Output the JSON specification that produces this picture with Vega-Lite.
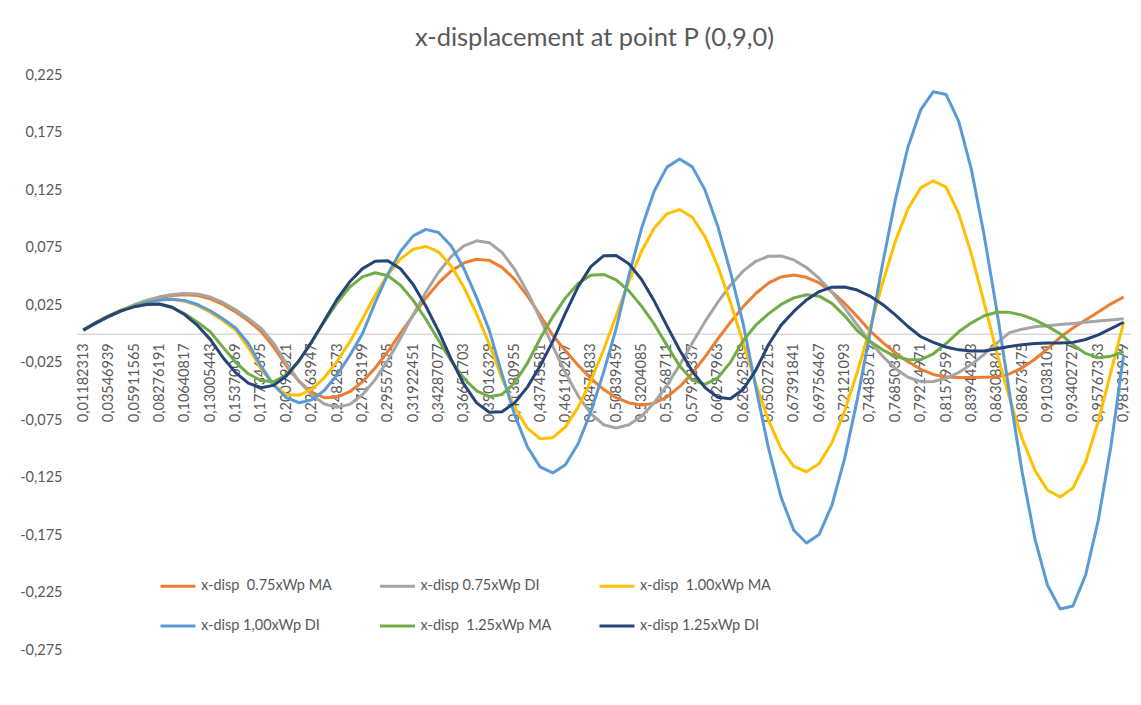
{
  "$schema": "https://vega.github.io/schema/vega-lite/v6.json",
  "width": 1053,
  "height": 575,
  "autosize": {"type": "none"},
  "padding": {"left": 77, "top": 75, "right": 11, "bottom": 55},
  "background": "white",
  "title": {"text": "x-displacement at point P (0,9,0)", "font": "Lato", "fontSize": 25.5, "fontWeight": "normal", "color": "#595959", "offset": 16, "dx": -9},
  "config": {"view": {"stroke": null}},
  "data": {"values": [
{"x":0.01182313,"s":"x-disp  0.75xWp MA","v":0.0031},{"x":0.02364626,"s":"x-disp  0.75xWp MA","v":0.0091},{"x":0.03546939,"s":"x-disp  0.75xWp MA","v":0.0148},{"x":0.04729252,"s":"x-disp  0.75xWp MA","v":0.0201},{"x":0.05911565,"s":"x-disp  0.75xWp MA","v":0.0247},{"x":0.07093878,"s":"x-disp  0.75xWp MA","v":0.0285},{"x":0.08276191,"s":"x-disp  0.75xWp MA","v":0.0313},{"x":0.09458504,"s":"x-disp  0.75xWp MA","v":0.0332},{"x":0.10640817,"s":"x-disp  0.75xWp MA","v":0.034},{"x":0.1182313,"s":"x-disp  0.75xWp MA","v":0.0333},
{"x":0.13005443,"s":"x-disp  0.75xWp MA","v":0.0304},{"x":0.14187756,"s":"x-disp  0.75xWp MA","v":0.0255},{"x":0.15370069,"s":"x-disp  0.75xWp MA","v":0.019},{"x":0.16552382,"s":"x-disp  0.75xWp MA","v":0.0112},{"x":0.17734695,"s":"x-disp  0.75xWp MA","v":0.0022},{"x":0.18917008,"s":"x-disp  0.75xWp MA","v":-0.0115},{"x":0.20099321,"s":"x-disp  0.75xWp MA","v":-0.028},{"x":0.21281634,"s":"x-disp  0.75xWp MA","v":-0.0414},{"x":0.22463947,"s":"x-disp  0.75xWp MA","v":-0.0509},{"x":0.2364626,"s":"x-disp  0.75xWp MA","v":-0.0556},
{"x":0.24828573,"s":"x-disp  0.75xWp MA","v":-0.0552},{"x":0.26010886,"s":"x-disp  0.75xWp MA","v":-0.0504},{"x":0.27193199,"s":"x-disp  0.75xWp MA","v":-0.0418},{"x":0.28375512,"s":"x-disp  0.75xWp MA","v":-0.0298},{"x":0.29557825,"s":"x-disp  0.75xWp MA","v":-0.0155},{"x":0.30740138,"s":"x-disp  0.75xWp MA","v":0.0005},{"x":0.31922451,"s":"x-disp  0.75xWp MA","v":0.016},{"x":0.33104764,"s":"x-disp  0.75xWp MA","v":0.0311},{"x":0.34287077,"s":"x-disp  0.75xWp MA","v":0.0442},{"x":0.3546939,"s":"x-disp  0.75xWp MA","v":0.0546},
{"x":0.36651703,"s":"x-disp  0.75xWp MA","v":0.0616},{"x":0.37834016,"s":"x-disp  0.75xWp MA","v":0.0648},{"x":0.39016329,"s":"x-disp  0.75xWp MA","v":0.0638},{"x":0.40198642,"s":"x-disp  0.75xWp MA","v":0.0577},{"x":0.41380955,"s":"x-disp  0.75xWp MA","v":0.0473},{"x":0.42563268,"s":"x-disp  0.75xWp MA","v":0.033},{"x":0.43745581,"s":"x-disp  0.75xWp MA","v":0.0163},{"x":0.44927894,"s":"x-disp  0.75xWp MA","v":-0.0014},{"x":0.46110207,"s":"x-disp  0.75xWp MA","v":-0.0148},{"x":0.4729252,"s":"x-disp  0.75xWp MA","v":-0.0274},
{"x":0.48474833,"s":"x-disp  0.75xWp MA","v":-0.0388},{"x":0.49657146,"s":"x-disp  0.75xWp MA","v":-0.0483},{"x":0.50839459,"s":"x-disp  0.75xWp MA","v":-0.0556},{"x":0.52021772,"s":"x-disp  0.75xWp MA","v":-0.0602},{"x":0.53204085,"s":"x-disp  0.75xWp MA","v":-0.062},{"x":0.54386398,"s":"x-disp  0.75xWp MA","v":-0.0604},{"x":0.55568711,"s":"x-disp  0.75xWp MA","v":-0.055},{"x":0.56751024,"s":"x-disp  0.75xWp MA","v":-0.046},{"x":0.57933337,"s":"x-disp  0.75xWp MA","v":-0.0342},{"x":0.5911565,"s":"x-disp  0.75xWp MA","v":-0.0201},
{"x":0.60297963,"s":"x-disp  0.75xWp MA","v":-0.0047},{"x":0.61480276,"s":"x-disp  0.75xWp MA","v":0.0099},{"x":0.62662589,"s":"x-disp  0.75xWp MA","v":0.0234},{"x":0.63844902,"s":"x-disp  0.75xWp MA","v":0.035},{"x":0.65027215,"s":"x-disp  0.75xWp MA","v":0.044},{"x":0.66209528,"s":"x-disp  0.75xWp MA","v":0.0494},{"x":0.67391841,"s":"x-disp  0.75xWp MA","v":0.051},{"x":0.68574154,"s":"x-disp  0.75xWp MA","v":0.0491},{"x":0.69756467,"s":"x-disp  0.75xWp MA","v":0.0442},{"x":0.7093878,"s":"x-disp  0.75xWp MA","v":0.0365},
{"x":0.72121093,"s":"x-disp  0.75xWp MA","v":0.0266},{"x":0.73303406,"s":"x-disp  0.75xWp MA","v":0.015},{"x":0.74485719,"s":"x-disp  0.75xWp MA","v":0.0026},{"x":0.75668032,"s":"x-disp  0.75xWp MA","v":-0.0075},{"x":0.76850345,"s":"x-disp  0.75xWp MA","v":-0.0165},{"x":0.78032658,"s":"x-disp  0.75xWp MA","v":-0.0244},{"x":0.79214971,"s":"x-disp  0.75xWp MA","v":-0.0309},{"x":0.80397284,"s":"x-disp  0.75xWp MA","v":-0.0354},{"x":0.81579597,"s":"x-disp  0.75xWp MA","v":-0.0377},{"x":0.8276191,"s":"x-disp  0.75xWp MA","v":-0.038},
{"x":0.83944223,"s":"x-disp  0.75xWp MA","v":-0.038},{"x":0.85126536,"s":"x-disp  0.75xWp MA","v":-0.0378},{"x":0.86308849,"s":"x-disp  0.75xWp MA","v":-0.0377},{"x":0.87491162,"s":"x-disp  0.75xWp MA","v":-0.0349},{"x":0.88673475,"s":"x-disp  0.75xWp MA","v":-0.0296},{"x":0.89855788,"s":"x-disp  0.75xWp MA","v":-0.0222},{"x":0.91038101,"s":"x-disp  0.75xWp MA","v":-0.0131},{"x":0.92220414,"s":"x-disp  0.75xWp MA","v":-0.0031},{"x":0.93402727,"s":"x-disp  0.75xWp MA","v":0.005},{"x":0.9458504,"s":"x-disp  0.75xWp MA","v":0.012},
{"x":0.95767353,"s":"x-disp  0.75xWp MA","v":0.019},{"x":0.96949666,"s":"x-disp  0.75xWp MA","v":0.026},{"x":0.98131979,"s":"x-disp  0.75xWp MA","v":0.032},

{"x":0.01182313,"s":"x-disp 0.75xWp DI","v":0.0031},{"x":0.02364626,"s":"x-disp 0.75xWp DI","v":0.0093},{"x":0.03546939,"s":"x-disp 0.75xWp DI","v":0.0151},{"x":0.04729252,"s":"x-disp 0.75xWp DI","v":0.0205},{"x":0.05911565,"s":"x-disp 0.75xWp DI","v":0.0252},{"x":0.07093878,"s":"x-disp 0.75xWp DI","v":0.0291},{"x":0.08276191,"s":"x-disp 0.75xWp DI","v":0.0321},{"x":0.09458504,"s":"x-disp 0.75xWp DI","v":0.0341},{"x":0.10640817,"s":"x-disp 0.75xWp DI","v":0.035},{"x":0.1182313,"s":"x-disp 0.75xWp DI","v":0.0345},
{"x":0.13005443,"s":"x-disp 0.75xWp DI","v":0.0319},{"x":0.14187756,"s":"x-disp 0.75xWp DI","v":0.0272},{"x":0.15370069,"s":"x-disp 0.75xWp DI","v":0.0209},{"x":0.16552382,"s":"x-disp 0.75xWp DI","v":0.0133},{"x":0.17734695,"s":"x-disp 0.75xWp DI","v":0.0048},{"x":0.18917008,"s":"x-disp 0.75xWp DI","v":-0.0082},{"x":0.20099321,"s":"x-disp 0.75xWp DI","v":-0.0257},{"x":0.21281634,"s":"x-disp 0.75xWp DI","v":-0.0411},{"x":0.22463947,"s":"x-disp 0.75xWp DI","v":-0.0532},{"x":0.2364626,"s":"x-disp 0.75xWp DI","v":-0.0611},
{"x":0.24828573,"s":"x-disp 0.75xWp DI","v":-0.064},{"x":0.26010886,"s":"x-disp 0.75xWp DI","v":-0.0614},{"x":0.27193199,"s":"x-disp 0.75xWp DI","v":-0.0531},{"x":0.28375512,"s":"x-disp 0.75xWp DI","v":-0.0399},{"x":0.29557825,"s":"x-disp 0.75xWp DI","v":-0.023},{"x":0.30740138,"s":"x-disp 0.75xWp DI","v":-0.0039},{"x":0.31922451,"s":"x-disp 0.75xWp DI","v":0.0166},{"x":0.33104764,"s":"x-disp 0.75xWp DI","v":0.0362},{"x":0.34287077,"s":"x-disp 0.75xWp DI","v":0.0535},{"x":0.3546939,"s":"x-disp 0.75xWp DI","v":0.0672},
{"x":0.36651703,"s":"x-disp 0.75xWp DI","v":0.0765},{"x":0.37834016,"s":"x-disp 0.75xWp DI","v":0.0808},{"x":0.39016329,"s":"x-disp 0.75xWp DI","v":0.0792},{"x":0.40198642,"s":"x-disp 0.75xWp DI","v":0.0707},{"x":0.41380955,"s":"x-disp 0.75xWp DI","v":0.056},{"x":0.42563268,"s":"x-disp 0.75xWp DI","v":0.0363},{"x":0.43745581,"s":"x-disp 0.75xWp DI","v":0.0133},{"x":0.44927894,"s":"x-disp 0.75xWp DI","v":-0.0108},{"x":0.46110207,"s":"x-disp 0.75xWp DI","v":-0.0339},{"x":0.4729252,"s":"x-disp 0.75xWp DI","v":-0.054},
{"x":0.48474833,"s":"x-disp 0.75xWp DI","v":-0.0695},{"x":0.49657146,"s":"x-disp 0.75xWp DI","v":-0.0791},{"x":0.50839459,"s":"x-disp 0.75xWp DI","v":-0.082},{"x":0.52021772,"s":"x-disp 0.75xWp DI","v":-0.0791},{"x":0.53204085,"s":"x-disp 0.75xWp DI","v":-0.0717},{"x":0.54386398,"s":"x-disp 0.75xWp DI","v":-0.06},{"x":0.55568711,"s":"x-disp 0.75xWp DI","v":-0.0449},{"x":0.56751024,"s":"x-disp 0.75xWp DI","v":-0.0273},{"x":0.57933337,"s":"x-disp 0.75xWp DI","v":-0.008},{"x":0.5911565,"s":"x-disp 0.75xWp DI","v":0.0105},
{"x":0.60297963,"s":"x-disp 0.75xWp DI","v":0.0272},{"x":0.61480276,"s":"x-disp 0.75xWp DI","v":0.0422},{"x":0.62662589,"s":"x-disp 0.75xWp DI","v":0.0544},{"x":0.63844902,"s":"x-disp 0.75xWp DI","v":0.063},{"x":0.65027215,"s":"x-disp 0.75xWp DI","v":0.0674},{"x":0.66209528,"s":"x-disp 0.75xWp DI","v":0.0676},{"x":0.67391841,"s":"x-disp 0.75xWp DI","v":0.0642},{"x":0.68574154,"s":"x-disp 0.75xWp DI","v":0.0576},{"x":0.69756467,"s":"x-disp 0.75xWp DI","v":0.0481},{"x":0.7093878,"s":"x-disp 0.75xWp DI","v":0.0362},
{"x":0.72121093,"s":"x-disp 0.75xWp DI","v":0.0225},{"x":0.73303406,"s":"x-disp 0.75xWp DI","v":0.0076},{"x":0.74485719,"s":"x-disp 0.75xWp DI","v":-0.0067},{"x":0.75668032,"s":"x-disp 0.75xWp DI","v":-0.0194},{"x":0.76850345,"s":"x-disp 0.75xWp DI","v":-0.0302},{"x":0.78032658,"s":"x-disp 0.75xWp DI","v":-0.0378},{"x":0.79214971,"s":"x-disp 0.75xWp DI","v":-0.0417},{"x":0.80397284,"s":"x-disp 0.75xWp DI","v":-0.0415},{"x":0.81579597,"s":"x-disp 0.75xWp DI","v":-0.0388},{"x":0.8276191,"s":"x-disp 0.75xWp DI","v":-0.0337},
{"x":0.83944223,"s":"x-disp 0.75xWp DI","v":-0.0266},{"x":0.85126536,"s":"x-disp 0.75xWp DI","v":-0.018},{"x":0.86308849,"s":"x-disp 0.75xWp DI","v":-0.0082},{"x":0.87491162,"s":"x-disp 0.75xWp DI","v":0.001},{"x":0.88673475,"s":"x-disp 0.75xWp DI","v":0.004},{"x":0.89855788,"s":"x-disp 0.75xWp DI","v":0.006},{"x":0.91038101,"s":"x-disp 0.75xWp DI","v":0.007},{"x":0.92220414,"s":"x-disp 0.75xWp DI","v":0.008},{"x":0.93402727,"s":"x-disp 0.75xWp DI","v":0.009},{"x":0.9458504,"s":"x-disp 0.75xWp DI","v":0.01},
{"x":0.95767353,"s":"x-disp 0.75xWp DI","v":0.011},{"x":0.96949666,"s":"x-disp 0.75xWp DI","v":0.012},{"x":0.98131979,"s":"x-disp 0.75xWp DI","v":0.013},

{"x":0.01182313,"s":"x-disp  1.00xWp MA","v":0.0032},{"x":0.02364626,"s":"x-disp  1.00xWp MA","v":0.0095},{"x":0.03546939,"s":"x-disp  1.00xWp MA","v":0.0154},{"x":0.04729252,"s":"x-disp  1.00xWp MA","v":0.0205},{"x":0.05911565,"s":"x-disp  1.00xWp MA","v":0.0247},{"x":0.07093878,"s":"x-disp  1.00xWp MA","v":0.0278},{"x":0.08276191,"s":"x-disp  1.00xWp MA","v":0.0296},{"x":0.09458504,"s":"x-disp  1.00xWp MA","v":0.03},{"x":0.10640817,"s":"x-disp  1.00xWp MA","v":0.0283},{"x":0.1182313,"s":"x-disp  1.00xWp MA","v":0.0245},
{"x":0.13005443,"s":"x-disp  1.00xWp MA","v":0.0187},{"x":0.14187756,"s":"x-disp  1.00xWp MA","v":0.0115},{"x":0.15370069,"s":"x-disp  1.00xWp MA","v":0.0033},{"x":0.16552382,"s":"x-disp  1.00xWp MA","v":-0.012},{"x":0.17734695,"s":"x-disp  1.00xWp MA","v":-0.0304},{"x":0.18917008,"s":"x-disp  1.00xWp MA","v":-0.0446},{"x":0.20099321,"s":"x-disp  1.00xWp MA","v":-0.0527},{"x":0.21281634,"s":"x-disp  1.00xWp MA","v":-0.0535},{"x":0.22463947,"s":"x-disp  1.00xWp MA","v":-0.0484},{"x":0.2364626,"s":"x-disp  1.00xWp MA","v":-0.0382},
{"x":0.24828573,"s":"x-disp  1.00xWp MA","v":-0.0239},{"x":0.26010886,"s":"x-disp  1.00xWp MA","v":-0.0071},{"x":0.27193199,"s":"x-disp  1.00xWp MA","v":0.0129},{"x":0.28375512,"s":"x-disp  1.00xWp MA","v":0.0335},{"x":0.29557825,"s":"x-disp  1.00xWp MA","v":0.0514},{"x":0.30740138,"s":"x-disp  1.00xWp MA","v":0.0651},{"x":0.31922451,"s":"x-disp  1.00xWp MA","v":0.0735},{"x":0.33104764,"s":"x-disp  1.00xWp MA","v":0.076},{"x":0.34287077,"s":"x-disp  1.00xWp MA","v":0.0711},{"x":0.3546939,"s":"x-disp  1.00xWp MA","v":0.0588},
{"x":0.36651703,"s":"x-disp  1.00xWp MA","v":0.0402},{"x":0.37834016,"s":"x-disp  1.00xWp MA","v":0.0173},{"x":0.39016329,"s":"x-disp  1.00xWp MA","v":-0.0092},{"x":0.40198642,"s":"x-disp  1.00xWp MA","v":-0.0388},{"x":0.41380955,"s":"x-disp  1.00xWp MA","v":-0.064},{"x":0.42563268,"s":"x-disp  1.00xWp MA","v":-0.0821},{"x":0.43745581,"s":"x-disp  1.00xWp MA","v":-0.0912},{"x":0.44927894,"s":"x-disp  1.00xWp MA","v":-0.0904},{"x":0.46110207,"s":"x-disp  1.00xWp MA","v":-0.081},{"x":0.4729252,"s":"x-disp  1.00xWp MA","v":-0.064},
{"x":0.48474833,"s":"x-disp  1.00xWp MA","v":-0.041},{"x":0.49657146,"s":"x-disp  1.00xWp MA","v":-0.0141},{"x":0.50839459,"s":"x-disp  1.00xWp MA","v":0.0156},{"x":0.52021772,"s":"x-disp  1.00xWp MA","v":0.0456},{"x":0.53204085,"s":"x-disp  1.00xWp MA","v":0.0718},{"x":0.54386398,"s":"x-disp  1.00xWp MA","v":0.0919},{"x":0.55568711,"s":"x-disp  1.00xWp MA","v":0.1043},{"x":0.56751024,"s":"x-disp  1.00xWp MA","v":0.108},{"x":0.57933337,"s":"x-disp  1.00xWp MA","v":0.1013},{"x":0.5911565,"s":"x-disp  1.00xWp MA","v":0.0845},
{"x":0.60297963,"s":"x-disp  1.00xWp MA","v":0.0589},{"x":0.61480276,"s":"x-disp  1.00xWp MA","v":0.0274},{"x":0.62662589,"s":"x-disp  1.00xWp MA","v":-0.0074},{"x":0.63844902,"s":"x-disp  1.00xWp MA","v":-0.0434},{"x":0.65027215,"s":"x-disp  1.00xWp MA","v":-0.0752},{"x":0.66209528,"s":"x-disp  1.00xWp MA","v":-0.1},{"x":0.67391841,"s":"x-disp  1.00xWp MA","v":-0.1154},{"x":0.68574154,"s":"x-disp  1.00xWp MA","v":-0.12},{"x":0.69756467,"s":"x-disp  1.00xWp MA","v":-0.1129},{"x":0.7093878,"s":"x-disp  1.00xWp MA","v":-0.0948},
{"x":0.72121093,"s":"x-disp  1.00xWp MA","v":-0.0675},{"x":0.73303406,"s":"x-disp  1.00xWp MA","v":-0.0335},{"x":0.74485719,"s":"x-disp  1.00xWp MA","v":0.0041},{"x":0.75668032,"s":"x-disp  1.00xWp MA","v":0.0442},{"x":0.76850345,"s":"x-disp  1.00xWp MA","v":0.0802},{"x":0.78032658,"s":"x-disp  1.00xWp MA","v":0.1087},{"x":0.79214971,"s":"x-disp  1.00xWp MA","v":0.1268},{"x":0.80397284,"s":"x-disp  1.00xWp MA","v":0.133},{"x":0.81579597,"s":"x-disp  1.00xWp MA","v":0.1275},{"x":0.8276191,"s":"x-disp  1.00xWp MA","v":0.1045},
{"x":0.83944223,"s":"x-disp  1.00xWp MA","v":0.0692},{"x":0.85126536,"s":"x-disp  1.00xWp MA","v":0.027},{"x":0.86308849,"s":"x-disp  1.00xWp MA","v":-0.0165},{"x":0.87491162,"s":"x-disp  1.00xWp MA","v":-0.0562},{"x":0.88673475,"s":"x-disp  1.00xWp MA","v":-0.0913},{"x":0.89855788,"s":"x-disp  1.00xWp MA","v":-0.1186},{"x":0.91038101,"s":"x-disp  1.00xWp MA","v":-0.1361},{"x":0.92220414,"s":"x-disp  1.00xWp MA","v":-0.142},{"x":0.93402727,"s":"x-disp  1.00xWp MA","v":-0.1342},{"x":0.9458504,"s":"x-disp  1.00xWp MA","v":-0.1115},
{"x":0.95767353,"s":"x-disp  1.00xWp MA","v":-0.0764},{"x":0.96949666,"s":"x-disp  1.00xWp MA","v":-0.0329},{"x":0.98131979,"s":"x-disp  1.00xWp MA","v":0.01},

{"x":0.01182313,"s":"x-disp 1,00xWp DI","v":0.0031},{"x":0.02364626,"s":"x-disp 1,00xWp DI","v":0.0093},{"x":0.03546939,"s":"x-disp 1,00xWp DI","v":0.015},{"x":0.04729252,"s":"x-disp 1,00xWp DI","v":0.0201},{"x":0.05911565,"s":"x-disp 1,00xWp DI","v":0.0243},{"x":0.07093878,"s":"x-disp 1,00xWp DI","v":0.0274},{"x":0.08276191,"s":"x-disp 1,00xWp DI","v":0.0293},{"x":0.09458504,"s":"x-disp 1,00xWp DI","v":0.03},{"x":0.10640817,"s":"x-disp 1,00xWp DI","v":0.0288},{"x":0.1182313,"s":"x-disp 1,00xWp DI","v":0.0254},
{"x":0.13005443,"s":"x-disp 1,00xWp DI","v":0.02},{"x":0.14187756,"s":"x-disp 1,00xWp DI","v":0.013},{"x":0.15370069,"s":"x-disp 1,00xWp DI","v":0.005},{"x":0.16552382,"s":"x-disp 1,00xWp DI","v":-0.0083},{"x":0.17734695,"s":"x-disp 1,00xWp DI","v":-0.0282},{"x":0.18917008,"s":"x-disp 1,00xWp DI","v":-0.0446},{"x":0.20099321,"s":"x-disp 1,00xWp DI","v":-0.0556},{"x":0.21281634,"s":"x-disp 1,00xWp DI","v":-0.06},{"x":0.22463947,"s":"x-disp 1,00xWp DI","v":-0.0575},{"x":0.2364626,"s":"x-disp 1,00xWp DI","v":-0.0492},
{"x":0.24828573,"s":"x-disp 1,00xWp DI","v":-0.0359},{"x":0.26010886,"s":"x-disp 1,00xWp DI","v":-0.0189},{"x":0.27193199,"s":"x-disp 1,00xWp DI","v":0.0},{"x":0.28375512,"s":"x-disp 1,00xWp DI","v":0.0271},{"x":0.29557825,"s":"x-disp 1,00xWp DI","v":0.0517},{"x":0.30740138,"s":"x-disp 1,00xWp DI","v":0.0716},{"x":0.31922451,"s":"x-disp 1,00xWp DI","v":0.0851},{"x":0.33104764,"s":"x-disp 1,00xWp DI","v":0.0908},{"x":0.34287077,"s":"x-disp 1,00xWp DI","v":0.088},{"x":0.3546939,"s":"x-disp 1,00xWp DI","v":0.0763},
{"x":0.36651703,"s":"x-disp 1,00xWp DI","v":0.0567},{"x":0.37834016,"s":"x-disp 1,00xWp DI","v":0.0314},{"x":0.39016329,"s":"x-disp 1,00xWp DI","v":0.0029},{"x":0.40198642,"s":"x-disp 1,00xWp DI","v":-0.0351},{"x":0.41380955,"s":"x-disp 1,00xWp DI","v":-0.0705},{"x":0.42563268,"s":"x-disp 1,00xWp DI","v":-0.0984},{"x":0.43745581,"s":"x-disp 1,00xWp DI","v":-0.1158},{"x":0.44927894,"s":"x-disp 1,00xWp DI","v":-0.121},{"x":0.46110207,"s":"x-disp 1,00xWp DI","v":-0.1139},{"x":0.4729252,"s":"x-disp 1,00xWp DI","v":-0.0956},
{"x":0.48474833,"s":"x-disp 1,00xWp DI","v":-0.068},{"x":0.49657146,"s":"x-disp 1,00xWp DI","v":-0.0338},{"x":0.50839459,"s":"x-disp 1,00xWp DI","v":0.0047},{"x":0.52021772,"s":"x-disp 1,00xWp DI","v":0.0505},{"x":0.53204085,"s":"x-disp 1,00xWp DI","v":0.0917},{"x":0.54386398,"s":"x-disp 1,00xWp DI","v":0.1242},{"x":0.55568711,"s":"x-disp 1,00xWp DI","v":0.1449},{"x":0.56751024,"s":"x-disp 1,00xWp DI","v":0.152},{"x":0.57933337,"s":"x-disp 1,00xWp DI","v":0.1451},{"x":0.5911565,"s":"x-disp 1,00xWp DI","v":0.1251},
{"x":0.60297963,"s":"x-disp 1,00xWp DI","v":0.0938},{"x":0.61480276,"s":"x-disp 1,00xWp DI","v":0.054},{"x":0.62662589,"s":"x-disp 1,00xWp DI","v":0.0091},{"x":0.63844902,"s":"x-disp 1,00xWp DI","v":-0.0462},{"x":0.65027215,"s":"x-disp 1,00xWp DI","v":-0.0993},{"x":0.66209528,"s":"x-disp 1,00xWp DI","v":-0.1423},{"x":0.67391841,"s":"x-disp 1,00xWp DI","v":-0.1709},{"x":0.68574154,"s":"x-disp 1,00xWp DI","v":-0.182},{"x":0.69756467,"s":"x-disp 1,00xWp DI","v":-0.1745},{"x":0.7093878,"s":"x-disp 1,00xWp DI","v":-0.1492},
{"x":0.72121093,"s":"x-disp 1,00xWp DI","v":-0.1088},{"x":0.73303406,"s":"x-disp 1,00xWp DI","v":-0.0573},{"x":0.74485719,"s":"x-disp 1,00xWp DI","v":0.0},{"x":0.75668032,"s":"x-disp 1,00xWp DI","v":0.0608},{"x":0.76850345,"s":"x-disp 1,00xWp DI","v":0.1164},{"x":0.78032658,"s":"x-disp 1,00xWp DI","v":0.1624},{"x":0.79214971,"s":"x-disp 1,00xWp DI","v":0.1946},{"x":0.80397284,"s":"x-disp 1,00xWp DI","v":0.2105},{"x":0.81579597,"s":"x-disp 1,00xWp DI","v":0.2081},{"x":0.8276191,"s":"x-disp 1,00xWp DI","v":0.1847},
{"x":0.83944223,"s":"x-disp 1,00xWp DI","v":0.1427},{"x":0.85126536,"s":"x-disp 1,00xWp DI","v":0.0859},{"x":0.86308849,"s":"x-disp 1,00xWp DI","v":0.0203},{"x":0.87491162,"s":"x-disp 1,00xWp DI","v":-0.0516},{"x":0.88673475,"s":"x-disp 1,00xWp DI","v":-0.1205},{"x":0.89855788,"s":"x-disp 1,00xWp DI","v":-0.1781},{"x":0.91038101,"s":"x-disp 1,00xWp DI","v":-0.2188},{"x":0.92220414,"s":"x-disp 1,00xWp DI","v":-0.2393},{"x":0.93402727,"s":"x-disp 1,00xWp DI","v":-0.2367},{"x":0.9458504,"s":"x-disp 1,00xWp DI","v":-0.2099},
{"x":0.95767353,"s":"x-disp 1,00xWp DI","v":-0.1622},{"x":0.96949666,"s":"x-disp 1,00xWp DI","v":-0.0976},{"x":0.98131979,"s":"x-disp 1,00xWp DI","v":-0.018},

{"x":0.01182313,"s":"x-disp  1.25xWp MA","v":0.0034},{"x":0.02364626,"s":"x-disp  1.25xWp MA","v":0.01},{"x":0.03546939,"s":"x-disp  1.25xWp MA","v":0.0158},{"x":0.04729252,"s":"x-disp  1.25xWp MA","v":0.0206},{"x":0.05911565,"s":"x-disp  1.25xWp MA","v":0.024},{"x":0.07093878,"s":"x-disp  1.25xWp MA","v":0.0258},{"x":0.08276191,"s":"x-disp  1.25xWp MA","v":0.0256},{"x":0.09458504,"s":"x-disp  1.25xWp MA","v":0.0228},{"x":0.10640817,"s":"x-disp  1.25xWp MA","v":0.0174},{"x":0.1182313,"s":"x-disp  1.25xWp MA","v":0.0101},
{"x":0.13005443,"s":"x-disp  1.25xWp MA","v":0.0017},{"x":0.14187756,"s":"x-disp  1.25xWp MA","v":-0.0116},{"x":0.15370069,"s":"x-disp  1.25xWp MA","v":-0.0247},{"x":0.16552382,"s":"x-disp  1.25xWp MA","v":-0.0348},{"x":0.17734695,"s":"x-disp  1.25xWp MA","v":-0.0407},{"x":0.18917008,"s":"x-disp  1.25xWp MA","v":-0.0417},{"x":0.20099321,"s":"x-disp  1.25xWp MA","v":-0.0357},{"x":0.21281634,"s":"x-disp  1.25xWp MA","v":-0.0235},{"x":0.22463947,"s":"x-disp  1.25xWp MA","v":-0.0071},{"x":0.2364626,"s":"x-disp  1.25xWp MA","v":0.0106},
{"x":0.24828573,"s":"x-disp  1.25xWp MA","v":0.027},{"x":0.26010886,"s":"x-disp  1.25xWp MA","v":0.0405},{"x":0.27193199,"s":"x-disp  1.25xWp MA","v":0.0494},{"x":0.28375512,"s":"x-disp  1.25xWp MA","v":0.053},{"x":0.29557825,"s":"x-disp  1.25xWp MA","v":0.0505},{"x":0.30740138,"s":"x-disp  1.25xWp MA","v":0.0422},{"x":0.31922451,"s":"x-disp  1.25xWp MA","v":0.029},{"x":0.33104764,"s":"x-disp  1.25xWp MA","v":0.0126},{"x":0.34287077,"s":"x-disp  1.25xWp MA","v":-0.0056},{"x":0.3546939,"s":"x-disp  1.25xWp MA","v":-0.0236},
{"x":0.36651703,"s":"x-disp  1.25xWp MA","v":-0.0389},{"x":0.37834016,"s":"x-disp  1.25xWp MA","v":-0.0497},{"x":0.39016329,"s":"x-disp  1.25xWp MA","v":-0.0547},{"x":0.40198642,"s":"x-disp  1.25xWp MA","v":-0.0528},{"x":0.41380955,"s":"x-disp  1.25xWp MA","v":-0.0426},{"x":0.42563268,"s":"x-disp  1.25xWp MA","v":-0.0256},{"x":0.43745581,"s":"x-disp  1.25xWp MA","v":-0.0044},{"x":0.44927894,"s":"x-disp  1.25xWp MA","v":0.0147},{"x":0.46110207,"s":"x-disp  1.25xWp MA","v":0.0312},{"x":0.4729252,"s":"x-disp  1.25xWp MA","v":0.0437},
{"x":0.48474833,"s":"x-disp  1.25xWp MA","v":0.0508},{"x":0.49657146,"s":"x-disp  1.25xWp MA","v":0.0516},{"x":0.50839459,"s":"x-disp  1.25xWp MA","v":0.0468},{"x":0.52021772,"s":"x-disp  1.25xWp MA","v":0.0373},{"x":0.53204085,"s":"x-disp  1.25xWp MA","v":0.024},{"x":0.54386398,"s":"x-disp  1.25xWp MA","v":0.0083},{"x":0.55568711,"s":"x-disp  1.25xWp MA","v":-0.0101},{"x":0.56751024,"s":"x-disp  1.25xWp MA","v":-0.0281},{"x":0.57933337,"s":"x-disp  1.25xWp MA","v":-0.0403},{"x":0.5911565,"s":"x-disp  1.25xWp MA","v":-0.044},
{"x":0.60297963,"s":"x-disp  1.25xWp MA","v":-0.0385},{"x":0.61480276,"s":"x-disp  1.25xWp MA","v":-0.0249},{"x":0.62662589,"s":"x-disp  1.25xWp MA","v":-0.0061},{"x":0.63844902,"s":"x-disp  1.25xWp MA","v":0.0074},{"x":0.65027215,"s":"x-disp  1.25xWp MA","v":0.0173},{"x":0.66209528,"s":"x-disp  1.25xWp MA","v":0.0255},{"x":0.67391841,"s":"x-disp  1.25xWp MA","v":0.0312},{"x":0.68574154,"s":"x-disp  1.25xWp MA","v":0.0339},{"x":0.69756467,"s":"x-disp  1.25xWp MA","v":0.0327},{"x":0.7093878,"s":"x-disp  1.25xWp MA","v":0.0264},
{"x":0.72121093,"s":"x-disp  1.25xWp MA","v":0.0158},{"x":0.73303406,"s":"x-disp  1.25xWp MA","v":0.0027},{"x":0.74485719,"s":"x-disp  1.25xWp MA","v":-0.0066},{"x":0.75668032,"s":"x-disp  1.25xWp MA","v":-0.014},{"x":0.76850345,"s":"x-disp  1.25xWp MA","v":-0.0196},{"x":0.78032658,"s":"x-disp  1.25xWp MA","v":-0.0226},{"x":0.79214971,"s":"x-disp  1.25xWp MA","v":-0.0224},{"x":0.80397284,"s":"x-disp  1.25xWp MA","v":-0.0174},{"x":0.81579597,"s":"x-disp  1.25xWp MA","v":-0.0086},{"x":0.8276191,"s":"x-disp  1.25xWp MA","v":0.0017},
{"x":0.83944223,"s":"x-disp  1.25xWp MA","v":0.0095},{"x":0.85126536,"s":"x-disp  1.25xWp MA","v":0.0156},{"x":0.86308849,"s":"x-disp  1.25xWp MA","v":0.0187},{"x":0.87491162,"s":"x-disp  1.25xWp MA","v":0.0186},{"x":0.88673475,"s":"x-disp  1.25xWp MA","v":0.0162},{"x":0.89855788,"s":"x-disp  1.25xWp MA","v":0.012},{"x":0.91038101,"s":"x-disp  1.25xWp MA","v":0.0064},{"x":0.92220414,"s":"x-disp  1.25xWp MA","v":0.0},{"x":0.93402727,"s":"x-disp  1.25xWp MA","v":-0.0096},{"x":0.9458504,"s":"x-disp  1.25xWp MA","v":-0.0171},
{"x":0.95767353,"s":"x-disp  1.25xWp MA","v":-0.0208},{"x":0.96949666,"s":"x-disp  1.25xWp MA","v":-0.0195},{"x":0.98131979,"s":"x-disp  1.25xWp MA","v":-0.0155},

{"x":0.01182313,"s":"x-disp 1.25xWp DI","v":0.0032},{"x":0.02364626,"s":"x-disp 1.25xWp DI","v":0.0095},{"x":0.03546939,"s":"x-disp 1.25xWp DI","v":0.0152},{"x":0.04729252,"s":"x-disp 1.25xWp DI","v":0.0199},{"x":0.05911565,"s":"x-disp 1.25xWp DI","v":0.0234},{"x":0.07093878,"s":"x-disp 1.25xWp DI","v":0.0255},{"x":0.08276191,"s":"x-disp 1.25xWp DI","v":0.0259},{"x":0.09458504,"s":"x-disp 1.25xWp DI","v":0.023},{"x":0.10640817,"s":"x-disp 1.25xWp DI","v":0.0165},{"x":0.1182313,"s":"x-disp 1.25xWp DI","v":0.0072},
{"x":0.13005443,"s":"x-disp 1.25xWp DI","v":-0.0049},{"x":0.14187756,"s":"x-disp 1.25xWp DI","v":-0.0206},{"x":0.15370069,"s":"x-disp 1.25xWp DI","v":-0.0338},{"x":0.16552382,"s":"x-disp 1.25xWp DI","v":-0.0429},{"x":0.17734695,"s":"x-disp 1.25xWp DI","v":-0.0469},{"x":0.18917008,"s":"x-disp 1.25xWp DI","v":-0.0449},{"x":0.20099321,"s":"x-disp 1.25xWp DI","v":-0.0368},{"x":0.21281634,"s":"x-disp 1.25xWp DI","v":-0.0235},{"x":0.22463947,"s":"x-disp 1.25xWp DI","v":-0.007},{"x":0.2364626,"s":"x-disp 1.25xWp DI","v":0.0115},
{"x":0.24828573,"s":"x-disp 1.25xWp DI","v":0.03},{"x":0.26010886,"s":"x-disp 1.25xWp DI","v":0.0452},{"x":0.27193199,"s":"x-disp 1.25xWp DI","v":0.0566},{"x":0.28375512,"s":"x-disp 1.25xWp DI","v":0.063},{"x":0.29557825,"s":"x-disp 1.25xWp DI","v":0.0634},{"x":0.30740138,"s":"x-disp 1.25xWp DI","v":0.0565},{"x":0.31922451,"s":"x-disp 1.25xWp DI","v":0.0428},{"x":0.33104764,"s":"x-disp 1.25xWp DI","v":0.0239},{"x":0.34287077,"s":"x-disp 1.25xWp DI","v":0.0022},{"x":0.3546939,"s":"x-disp 1.25xWp DI","v":-0.0223},
{"x":0.36651703,"s":"x-disp 1.25xWp DI","v":-0.0441},{"x":0.37834016,"s":"x-disp 1.25xWp DI","v":-0.0601},{"x":0.39016329,"s":"x-disp 1.25xWp DI","v":-0.0683},{"x":0.40198642,"s":"x-disp 1.25xWp DI","v":-0.0678},{"x":0.41380955,"s":"x-disp 1.25xWp DI","v":-0.0601},{"x":0.42563268,"s":"x-disp 1.25xWp DI","v":-0.0464},{"x":0.43745581,"s":"x-disp 1.25xWp DI","v":-0.028},{"x":0.44927894,"s":"x-disp 1.25xWp DI","v":-0.0066},{"x":0.46110207,"s":"x-disp 1.25xWp DI","v":0.0179},{"x":0.4729252,"s":"x-disp 1.25xWp DI","v":0.041},
{"x":0.48474833,"s":"x-disp 1.25xWp DI","v":0.0584},{"x":0.49657146,"s":"x-disp 1.25xWp DI","v":0.0678},{"x":0.50839459,"s":"x-disp 1.25xWp DI","v":0.0681},{"x":0.52021772,"s":"x-disp 1.25xWp DI","v":0.0609},{"x":0.53204085,"s":"x-disp 1.25xWp DI","v":0.0472},{"x":0.54386398,"s":"x-disp 1.25xWp DI","v":0.0284},{"x":0.55568711,"s":"x-disp 1.25xWp DI","v":0.0068},{"x":0.56751024,"s":"x-disp 1.25xWp DI","v":-0.0141},{"x":0.57933337,"s":"x-disp 1.25xWp DI","v":-0.0325},{"x":0.5911565,"s":"x-disp 1.25xWp DI","v":-0.0468},
{"x":0.60297963,"s":"x-disp 1.25xWp DI","v":-0.0552},{"x":0.61480276,"s":"x-disp 1.25xWp DI","v":-0.0565},{"x":0.62662589,"s":"x-disp 1.25xWp DI","v":-0.0485},{"x":0.63844902,"s":"x-disp 1.25xWp DI","v":-0.0319},{"x":0.65027215,"s":"x-disp 1.25xWp DI","v":-0.0096},{"x":0.66209528,"s":"x-disp 1.25xWp DI","v":0.0075},{"x":0.67391841,"s":"x-disp 1.25xWp DI","v":0.0194},{"x":0.68574154,"s":"x-disp 1.25xWp DI","v":0.0294},{"x":0.69756467,"s":"x-disp 1.25xWp DI","v":0.0367},{"x":0.7093878,"s":"x-disp 1.25xWp DI","v":0.0405},
{"x":0.72121093,"s":"x-disp 1.25xWp DI","v":0.0407},{"x":0.73303406,"s":"x-disp 1.25xWp DI","v":0.038},{"x":0.74485719,"s":"x-disp 1.25xWp DI","v":0.0328},{"x":0.75668032,"s":"x-disp 1.25xWp DI","v":0.0255},{"x":0.76850345,"s":"x-disp 1.25xWp DI","v":0.0164},{"x":0.78032658,"s":"x-disp 1.25xWp DI","v":0.0063},{"x":0.79214971,"s":"x-disp 1.25xWp DI","v":-0.0025},{"x":0.80397284,"s":"x-disp 1.25xWp DI","v":-0.0075},{"x":0.81579597,"s":"x-disp 1.25xWp DI","v":-0.0115},{"x":0.8276191,"s":"x-disp 1.25xWp DI","v":-0.014},
{"x":0.83944223,"s":"x-disp 1.25xWp DI","v":-0.015},{"x":0.85126536,"s":"x-disp 1.25xWp DI","v":-0.015},{"x":0.86308849,"s":"x-disp 1.25xWp DI","v":-0.013},{"x":0.87491162,"s":"x-disp 1.25xWp DI","v":-0.011},{"x":0.88673475,"s":"x-disp 1.25xWp DI","v":-0.0095},{"x":0.89855788,"s":"x-disp 1.25xWp DI","v":-0.0085},{"x":0.91038101,"s":"x-disp 1.25xWp DI","v":-0.008},{"x":0.92220414,"s":"x-disp 1.25xWp DI","v":-0.008},{"x":0.93402727,"s":"x-disp 1.25xWp DI","v":-0.0075},{"x":0.9458504,"s":"x-disp 1.25xWp DI","v":-0.005},
{"x":0.95767353,"s":"x-disp 1.25xWp DI","v":-0.001},{"x":0.96949666,"s":"x-disp 1.25xWp DI","v":0.0045},{"x":0.98131979,"s":"x-disp 1.25xWp DI","v":0.01}
  ]},
  "mark": {"type": "line", "strokeWidth": 3, "strokeJoin": "round", "strokeCap": "butt"},
  "encoding": {
    "x": {
      "field": "x", "type": "quantitative",
      "scale": {"domain": [0.005911565, 0.987231355], "nice": false, "zero": false},
      "axis": {
        "title": null, "grid": false, "ticks": false, "tickSize": 0,
        "values": [0.01182313,0.03546939,0.05911565,0.08276191,0.10640817,0.13005443,0.15370069,0.17734695,0.20099321,0.22463947,0.24828573,0.27193199,0.29557825,0.31922451,0.34287077,0.36651703,0.39016329,0.41380955,0.43745581,0.46110207,0.48474833,0.50839459,0.53204085,0.55568711,0.57933337,0.60297963,0.62662589,0.65027215,0.67391841,0.69756467,0.72121093,0.74485719,0.76850345,0.79214971,0.81579597,0.83944223,0.86308849,0.88673475,0.91038101,0.93402727,0.95767353,0.98131979],
        "labelExpr": "replace(format(datum.value, '.8f'), '.', ',')",
        "labelAngle": 270, "labelPadding": 9, "labelOverlap": false, "labelFlush": false, "labelBound": false,
        "labelFont": "Lato", "labelFontSize": 14.5, "labelColor": "#595959",
        "domainColor": "#d9d9d9", "domainWidth": 1.3,
        "offset": {"expr": "scale('y', 0) - height"}
      }
    },
    "y": {
      "field": "v", "type": "quantitative",
      "scale": {"domain": [-0.275, 0.225], "nice": false, "zero": false},
      "axis": {
        "title": null, "grid": false, "domain": false, "ticks": false, "tickSize": 0,
        "values": [-0.275,-0.225,-0.175,-0.125,-0.075,-0.025,0.025,0.075,0.125,0.175,0.225],
        "labelExpr": "replace(replace(format(datum.value, '.3f'), '.', ','), '\u2212', '-')",
        "labelPadding": 15, "labelFont": "Lato", "labelFontSize": 14.5, "labelColor": "#595959"
      }
    },
    "color": {
      "field": "s", "type": "nominal",
      "scale": {
        "domain": ["x-disp  0.75xWp MA", "x-disp 0.75xWp DI", "x-disp  1.00xWp MA", "x-disp 1,00xWp DI", "x-disp  1.25xWp MA", "x-disp 1.25xWp DI"],
        "range": ["#ED7D31", "#A5A5A5", "#FFC000", "#5B9BD5", "#70AD47", "#264478"]
      },
      "legend": {
        "title": null, "orient": "none", "legendX": 82, "legendY": 492, "direction": "horizontal", "columns": 3,
        "gridAlign": "all", "columnPadding": 41.5, "rowPadding": 14,
        "symbolType": "stroke", "symbolSize": 1225, "symbolStrokeWidth": 3,
        "labelFont": "Lato", "labelFontSize": 14.5, "labelColor": "#595959", "labelOffset": 4,
        "labelExpr": "replace(datum.label, '  ', ' \u00a0')"
      }
    }
  }
}
